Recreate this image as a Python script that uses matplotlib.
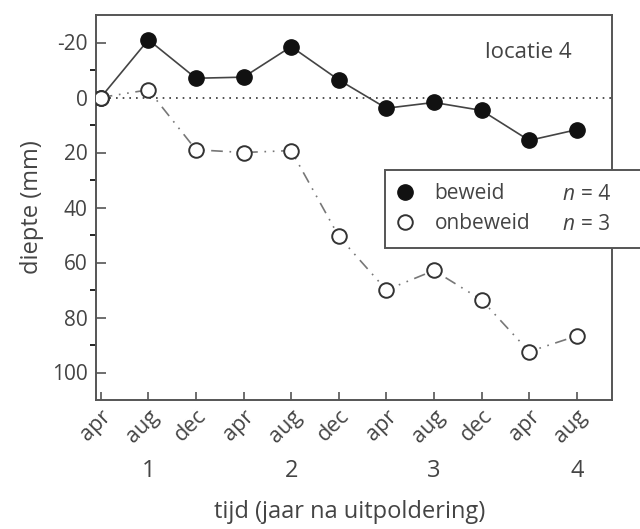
import matplotlib
matplotlib.use("Agg")
import matplotlib.pyplot as plt
import matplotlib.transforms as mtransforms
from matplotlib.lines import Line2D
from matplotlib.patches import Rectangle

plt.rcParams['font.family'] = ['Open Sans', 'DejaVu Sans']

months = ["apr", "aug", "dec", "apr", "aug", "dec", "apr", "aug", "dec", "apr", "aug"]
years = ["1", "2", "3", "4"]
year_pos = [1, 4, 7, 10]
beweid = [0, -21, -7, -7.4, -18.5, -6.4, 3.9, 1.8, 4.7, 15.6, 11.7]
onbeweid = [0, -2.8, 19, 20, 19.3, 50.5, 70, 62.9, 73.6, 92.4, 86.7]
yticks = [-20, 0, 20, 40, 60, 80, 100]
yminor = [-10, 10, 30, 50, 70, 90]

tc = "#444444"
sc = "#555555"

fig = plt.figure(figsize=(6.4, 5.29), dpi=100)
ax = fig.add_axes([96/640, 1 - 400/529, (612-96)/640, (400-15)/529])

x = list(range(len(months)))
ax.axhline(0, color="#333333", lw=1.2, ls=(0, (1, 3)), zorder=1)
ax.plot(x, beweid, color="#444444", lw=1.2, marker="o", ms=11,
        mfc="#111111", mec="#111111", zorder=3)
ax.plot(x, onbeweid, color="#777777", lw=1.2, ls=(0, (7, 4, 1, 4, 1, 4)),
        marker="o", ms=10.5, mfc="white", mec="#333333", mew=1.4, zorder=4)

ax.set_xlim(-0.1, 10.74)
ax.set_ylim(110, -30)
ax.set_yticks(yticks)
ax.set_yticklabels([str(v) for v in yticks])
ax.set_yticks(yminor, minor=True)
ax.set_xticks(x)
ax.set_xticklabels(months, rotation=45, ha="right", va="top",
                   rotation_mode="anchor")
ax.tick_params(axis="both", direction="in", color=sc, labelcolor=tc)
ax.tick_params(axis="y", which="major", length=7, width=1.2, labelsize=15, pad=6)
ax.tick_params(axis="y", which="minor", length=4, width=1.2)
ax.tick_params(axis="x", which="major", length=6, width=1.2, labelsize=15.5, pad=4)
for s in ax.spines.values():
    s.set_color(sc)
    s.set_linewidth(1.4)

ytr = mtransforms.blended_transform_factory(ax.transData, fig.transFigure)
for p, t in zip(year_pos, years):
    ax.text(p, 1 - 471/529, t, transform=ytr, ha="center", va="center",
            fontsize=17, color=tc)

ax.set_ylabel("diepte (mm)", fontsize=17, color=tc, labelpad=6)
fig.text(350/640, 1 - 512/529, "tijd (jaar na uitpoldering)", ha="center",
         va="center", fontsize=17, color=tc)
fig.text(528/640, 1 - 52/529, "locatie 4", ha="center", va="center",
         fontsize=16, color=tc)

# legend box extending beyond the axes
fig.patches.append(Rectangle((385/640, 1 - 248/529), 270/640, 78/529,
                             transform=fig.transFigure, fill=True, fc="white",
                             ec=sc, lw=1.4, zorder=5))
handles = [Line2D([], [], ls="none", marker="o", ms=11, mfc="#111111", mec="#111111"),
           Line2D([], [], ls="none", marker="o", ms=10.5, mfc="white", mec="#333333", mew=1.4)]
leg = fig.legend(handles, ["beweid", "onbeweid"], loc="upper left",
                 bbox_to_anchor=(395/640, 1 - 183/529), frameon=False,
                 fontsize=15, handletextpad=0.9, borderpad=0,
                 labelspacing=0.45, handlelength=1.0, borderaxespad=0)
leg.set_zorder(6)
for t in leg.get_texts():
    t.set_color(tc)
for yy, nn in [(195, "4"), (224, "3")]:
    fig.text(562/640, 1 - yy/529, "n", fontstyle="italic", fontsize=15,
             color=tc, ha="left", va="center", zorder=7)
    fig.text(581/640, 1 - yy/529, "= " + nn, fontsize=15, color=tc,
             ha="left", va="center", zorder=7)

fig.savefig("out.png", dpi=100)
